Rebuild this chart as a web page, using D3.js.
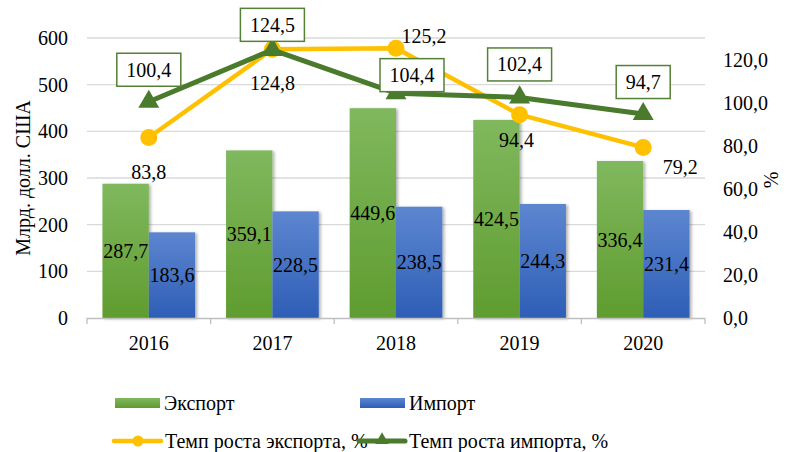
<!DOCTYPE html>
<html>
<head>
<meta charset="utf-8">
<script src="https://cdn.jsdelivr.net/npm/d3@7"></script>
<style>
  body { margin: 0; background: #fff; }
</style>
</head>
<body>
<svg id="chart" width="794" height="452"></svg>
<script>
const years = ['2016', '2017', '2018', '2019', '2020'];
const exportVals = [287.7, 359.1, 449.6, 424.5, 336.4];
const importVals = [183.6, 228.5, 238.5, 244.3, 231.4];
const exportGrowth = [83.8, 124.8, 125.2, 94.4, 79.2];
const importGrowth = [100.4, 124.5, 104.4, 102.4, 94.7];
const leftTicks = [0, 100, 200, 300, 400, 500, 600];
const rightTicks = [0, 20, 40, 60, 80, 100, 120];

// label placement (offsets from the point)
const expLabelOff = [[0, 34], [0, 34], [28, -12], [-3, 25], [37, 20]];
const impLabelOff = [[0, -32], [0, -25], [16, -18], [0, -33], [0, -32]];

const fmt = v => d3.format('.1f')(v).replace('.', ',');
const FS = 20;
const FONT = 'Liberation Serif';

const svg = d3.select('#chart');
const pLeft = 87, pRight = 705, pTop = 38, pBottom = 318;

const x = d3.scaleBand().domain(years).range([pLeft, pRight])
    .paddingInner(0.25).paddingOuter(0.125);
const x1 = d3.scaleBand().domain(['exp', 'imp']).range([0, x.bandwidth()]);
const xc = d => x(d) + x.bandwidth() / 2;
const y = d3.scaleLinear().domain([0, 600]).range([pBottom, pTop]);
const y2 = d3.scaleLinear().domain([0, 130]).range([pBottom, pTop]);

const defs = svg.append('defs');
const grad = (id, c1, c2) => {
    const g = defs.append('linearGradient').attr('id', id)
        .attr('x1', 0).attr('y1', 0).attr('x2', 0).attr('y2', 1);
    g.append('stop').attr('offset', '0%').attr('stop-color', c1);
    g.append('stop').attr('offset', '100%').attr('stop-color', c2);
};
grad('gExp', '#80b85e', '#5f9c2f');
grad('gImp', '#5d86d0', '#2e5eb6');
defs.append('filter').attr('id', 'shadow')
    .attr('x', '-20%').attr('y', '-20%').attr('width', '150%').attr('height', '150%')
    .append('feDropShadow').attr('dx', 2).attr('dy', 1).attr('stdDeviation', 1.5)
    .attr('flood-color', '#000').attr('flood-opacity', 0.3);

// gridlines
svg.append('g').selectAll('line').data(leftTicks.slice(1)).join('line')
    .attr('x1', pLeft).attr('x2', pRight)
    .attr('y1', d => y(d)).attr('y2', d => y(d))
    .attr('stroke', '#d9d9d9').attr('stroke-width', 1.3);

// left axis labels
svg.append('g').selectAll('text').data(leftTicks).join('text')
    .attr('x', 68).attr('y', d => y(d)).attr('dy', '0.35em')
    .attr('text-anchor', 'end').text(d => d);

// right axis labels
svg.append('g').selectAll('text').data(rightTicks).join('text')
    .attr('x', 723).attr('y', d => y2(d)).attr('dy', '0.35em')
    .attr('text-anchor', 'start').text(d => fmt(d));

// axis titles
svg.append('text').attr('transform', 'translate(23,178) rotate(-90)')
    .attr('text-anchor', 'middle').attr('dy', '0.35em')
    .text('Млрд. долл. США');
svg.append('text').attr('transform', 'translate(771,180) rotate(-90)')
    .attr('text-anchor', 'middle').attr('dy', '0.35em')
    .text('%');

// bars
const bars = svg.append('g').attr('filter', 'url(#shadow)');
bars.selectAll('rect.exp').data(years).join('rect').attr('class', 'exp')
    .attr('x', d => x(d) + x1('exp')).attr('width', x1.bandwidth())
    .attr('y', (d, i) => y(exportVals[i])).attr('height', (d, i) => y(0) - y(exportVals[i]))
    .attr('fill', 'url(#gExp)');
bars.selectAll('rect.imp').data(years).join('rect').attr('class', 'imp')
    .attr('x', d => x(d) + x1('imp')).attr('width', x1.bandwidth())
    .attr('y', (d, i) => y(importVals[i])).attr('height', (d, i) => y(0) - y(importVals[i]))
    .attr('fill', 'url(#gImp)');

// x axis
svg.append('line').attr('x1', pLeft).attr('x2', pRight).attr('y1', pBottom + 0.5).attr('y2', pBottom + 0.5)
    .attr('stroke', '#bfbfbf').attr('stroke-width', 1.3);
const tickX = [pLeft, ...years.map(d => x(d) + x.bandwidth() + x.step() * x.paddingInner() / 2)];
tickX[tickX.length - 1] = pRight;
svg.append('g').selectAll('line').data(tickX).join('line')
    .attr('x1', d => d).attr('x2', d => d).attr('y1', pBottom).attr('y2', pBottom + 6)
    .attr('stroke', '#bfbfbf').attr('stroke-width', 1.3);
svg.append('g').selectAll('text').data(years).join('text')
    .attr('x', d => xc(d)).attr('y', 343).attr('dy', '0.35em')
    .attr('text-anchor', 'middle').text(d => d);

// bar labels
svg.append('g').selectAll('text').data(years).join('text')
    .attr('x', d => x(d) + x1('exp') + x1.bandwidth() / 2)
    .attr('y', (d, i) => (y(exportVals[i]) + y(0)) / 2).attr('dy', '0.35em')
    .attr('text-anchor', 'middle').text((d, i) => fmt(exportVals[i]));
svg.append('g').selectAll('text').data(years).join('text')
    .attr('x', d => x(d) + x1('imp') + x1.bandwidth() / 2)
    .attr('y', (d, i) => (y(importVals[i]) + y(0)) / 2).attr('dy', '0.35em')
    .attr('text-anchor', 'middle').text((d, i) => fmt(importVals[i]));

// lines
const expColor = '#ffc000', impColor = '#4a7a2b';
const line = d3.line().x(d => xc(d[0])).y(d => y2(d[1]));
svg.append('path').datum(years.map((d, i) => [d, exportGrowth[i]]))
    .attr('d', line).attr('fill', 'none').attr('stroke', expColor)
    .attr('stroke-width', 4.5).attr('stroke-linejoin', 'round');
svg.append('g').selectAll('circle').data(years).join('circle')
    .attr('cx', d => xc(d)).attr('cy', (d, i) => y2(exportGrowth[i])).attr('r', 8.5)
    .attr('fill', expColor);
svg.append('path').datum(years.map((d, i) => [d, importGrowth[i]]))
    .attr('d', line).attr('fill', 'none').attr('stroke', impColor)
    .attr('stroke-width', 5).attr('stroke-linejoin', 'round');
const tri = d3.symbol().type(d3.symbolTriangle).size(190);
svg.append('g').selectAll('path').data(years).join('path')
    .attr('d', tri).attr('fill', impColor)
    .attr('transform', (d, i) => `translate(${xc(d)},${y2(importGrowth[i])})`);

// export growth labels
svg.append('g').selectAll('text').data(years).join('text')
    .attr('x', (d, i) => xc(d) + expLabelOff[i][0])
    .attr('y', (d, i) => y2(exportGrowth[i]) + expLabelOff[i][1]).attr('dy', '0.35em')
    .attr('text-anchor', 'middle').text((d, i) => fmt(exportGrowth[i]));

// import growth labels in boxes
const ib = svg.append('g').selectAll('g').data(years).join('g')
    .attr('transform', (d, i) => `translate(${xc(d) + impLabelOff[i][0]},${y2(importGrowth[i]) + impLabelOff[i][1]})`);
ib.append('rect').attr('x', (d, i) => importGrowth[i] >= 100 ? -32 : -27)
    .attr('width', (d, i) => importGrowth[i] >= 100 ? 64 : 54)
    .attr('y', -16.5).attr('height', 33)
    .attr('fill', '#fff').attr('stroke', '#538135').attr('stroke-width', 1.5);
ib.append('text').attr('text-anchor', 'middle').attr('dy', '0.35em')
    .text((d, i) => fmt(importGrowth[i]));

// legend
const lg = svg.append('g');
lg.append('rect').attr('x', 115).attr('y', 398).attr('width', 45).attr('height', 10).attr('fill', 'url(#gExp)');
lg.append('text').attr('x', 164).attr('y', 403).attr('dy', '0.35em').text('Экспорт');
lg.append('rect').attr('x', 360).attr('y', 398).attr('width', 45).attr('height', 10).attr('fill', 'url(#gImp)');
lg.append('text').attr('x', 409).attr('y', 403).attr('dy', '0.35em').text('Импорт');

lg.append('line').attr('x1', 114).attr('x2', 161).attr('y1', 441).attr('y2', 441)
    .attr('stroke', expColor).attr('stroke-width', 4.5).attr('stroke-linecap', 'round');
lg.append('circle').attr('cx', 138).attr('cy', 441).attr('r', 5.5).attr('fill', expColor);
lg.append('text').attr('x', 165).attr('y', 441).attr('dy', '0.35em').text('Темп роста экспорта, %');
lg.append('line').attr('x1', 359).attr('x2', 405).attr('y1', 441).attr('y2', 441)
    .attr('stroke', impColor).attr('stroke-width', 5).attr('stroke-linecap', 'round');
lg.append('path').attr('d', d3.symbol().type(d3.symbolTriangle).size(80))
    .attr('transform', 'translate(382,440)').attr('fill', impColor);
lg.append('text').attr('x', 409).attr('y', 441).attr('dy', '0.35em').text('Темп роста импорта, %');

// font for every text
svg.selectAll('text').attr('font-family', FONT).attr('font-size', FS).attr('fill', '#000');
</script>
</body>
</html>
